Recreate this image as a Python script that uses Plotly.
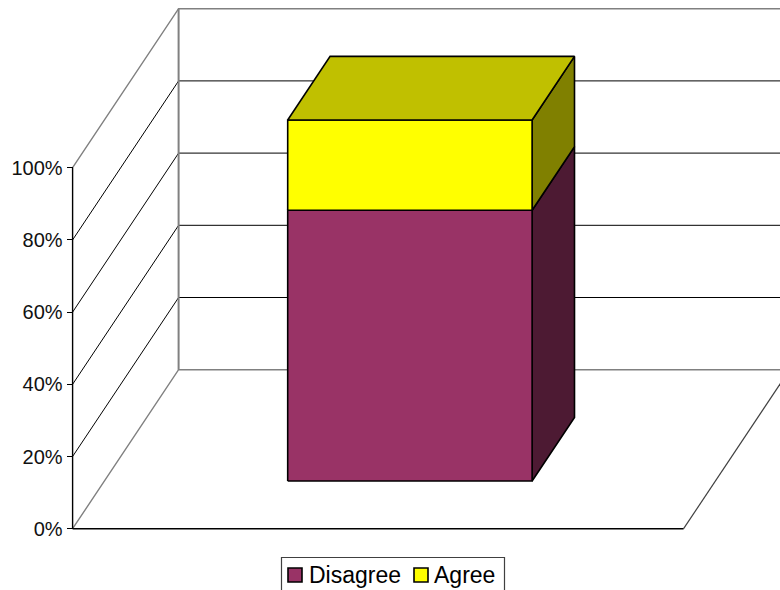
import plotly.graph_objects as go

# Chart data
series_names = ["Disagree", "Agree"]
disagree = [75]
agree = [25]
tick_values = [0, 20, 40, 60, 80, 100]
tick_labels = ["0%", "20%", "40%", "60%", "80%", "100%"]

# Colours per series: front, top, side
fills = {
    "Disagree": ("#993366", "#732650", "#4D1A33"),
    "Agree": ("#FFFF00", "#C0C000", "#808000"),
}

WIDTH, HEIGHT = 780, 590
FONT = "Liberation Sans, Arial, sans-serif"

# Oblique projection: depth moves a point right and up on the canvas
PX_X0, PX_X1 = 72.6, 683.6      # category axis ends
PX_Y0, PX_Y100 = 528.7, 167.7   # value axis ends
DEPTH_PX_X, DEPTH_PX_Y = 106, 159
px_per_u = PX_X1 - PX_X0
px_per_v = (PX_Y0 - PX_Y100) / 100
GAP_WIDTH = 1.5
bar_share = 1 / (1 + GAP_WIDTH)
bar_lo, bar_hi = (1 - bar_share) / 2, (1 + bar_share) / 2


def project(u, d, v):
    return u + d * DEPTH_PX_X / px_per_u, v + d * DEPTH_PX_Y / px_per_v


fig = go.Figure()


def edge(points, color, width):
    xy = [project(*p) for p in points]
    fig.add_trace(go.Scatter(x=[p[0] for p in xy], y=[p[1] for p in xy], mode="lines",
                             line=dict(color=color, width=width), hoverinfo="skip", showlegend=False))


def face(points, fill, name):
    xy = [project(*p) for p in points + points[:1]]
    fig.add_trace(go.Scatter(x=[p[0] for p in xy], y=[p[1] for p in xy], mode="lines", fill="toself",
                             fillcolor=fill, line=dict(color="black", width=1.6), name=name,
                             hoverinfo="skip", showlegend=False))


# Walls, floor and gridlines
for v in tick_values[1:-1]:
    edge([(0, 0, v), (0, 1, v), (1, 1, v)], "#000000", 1)
edge([(0, 0, 100), (0, 1, 100), (1.1, 1, 100)], "#808080", 1.4)
edge([(0, 0, 0), (0, 1, 0), (1.1, 1, 0)], "#808080", 1.4)
edge([(0, 1, 0), (0, 1, 100)], "#808080", 2)
edge([(1, 0, 0), (1, 1, 0)], "#404040", 1.2)
edge([(0, 0, 0), (1, 0, 0)], "#000000", 1.4)
edge([(0, 0, 0), (0, 0, 100)], "#000000", 1.4)

# Stacked block: each segment draws its side and front; the last one gets the lid
base = 0
segments = list(zip(series_names, [disagree[0], agree[0]]))
for i, (name, value) in enumerate(segments):
    top = base + value
    front_c, top_c, side_c = fills[name]
    face([(bar_hi, 0.3, base), (bar_hi, 0.7, base), (bar_hi, 0.7, top), (bar_hi, 0.3, top)], side_c, name)
    face([(bar_lo, 0.3, base), (bar_hi, 0.3, base), (bar_hi, 0.3, top), (bar_lo, 0.3, top)], front_c, name)
    if i == len(segments) - 1:
        face([(bar_lo, 0.3, top), (bar_hi, 0.3, top), (bar_hi, 0.7, top), (bar_lo, 0.7, top)], top_c, name)
    base = top

# Legend box with square keys, partly running off the lower edge of the page
shapes = [dict(type="rect", xref="paper", yref="paper", x0=281.5 / WIDTH, x1=504.5 / WIDTH,
               y0=1 - 600 / HEIGHT, y1=1 - 557.5 / HEIGHT, line=dict(color="#404040", width=1.2),
               fillcolor="white", layer="above")]
annotations = []
for name, key_x, text_x in zip(series_names, [288, 414], [307, 432]):
    shapes.append(dict(type="rect", xref="paper", yref="paper", x0=key_x / WIDTH, x1=(key_x + 14) / WIDTH,
                       y0=1 - 582 / HEIGHT, y1=1 - 568 / HEIGHT, line=dict(color="black", width=1.6),
                       fillcolor=fills[name][0], layer="above"))
    annotations.append(dict(text=name, xref="paper", yref="paper", x=text_x / WIDTH, y=1 - 575 / HEIGHT,
                            xanchor="left", yanchor="middle", showarrow=False,
                            font=dict(family=FONT, size=23, color="black")))

fig.update_layout(
    width=WIDTH, height=HEIGHT, margin=dict(l=0, r=0, t=0, b=0),
    paper_bgcolor="white", plot_bgcolor="white", showlegend=False,
    shapes=shapes, annotations=annotations,
    xaxis=dict(range=[-PX_X0 / px_per_u, (WIDTH - PX_X0) / px_per_u], visible=False, fixedrange=True),
    yaxis=dict(range=[-(HEIGHT - PX_Y0) / px_per_v, PX_Y0 / px_per_v], anchor="free", position=PX_X0 / WIDTH,
               tickmode="array", tickvals=tick_values, ticktext=tick_labels, ticks="outside", ticklen=6,
               tickwidth=1, tickcolor="black", showgrid=False, zeroline=False, showline=False,
               tickfont=dict(family=FONT, size=20, color="#111111"), fixedrange=True),
)

fig.write_html("out.html", config=dict(displayModeBar=False))
